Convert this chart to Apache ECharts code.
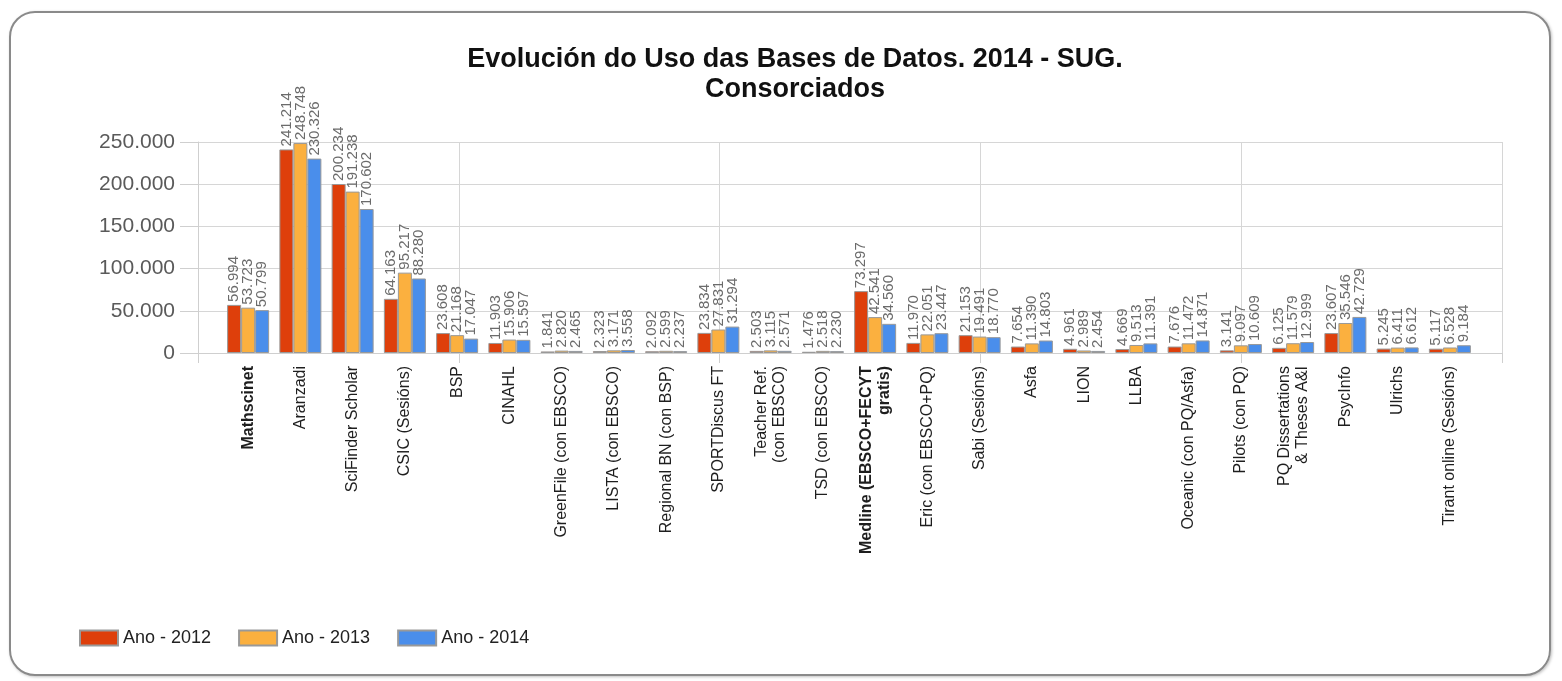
<!DOCTYPE html>
<html>
<head>
<meta charset="utf-8">
<title>Evolución do Uso das Bases de Datos</title>
<script src="https://cdn.jsdelivr.net/npm/echarts@6/dist/echarts.min.js"></script>
<style>
html, body { margin: 0; padding: 0; background: #fff; }
.marco { position: absolute; left: 9px; top: 11px; width: 1538px; height: 661px; border: 2px solid #8a8a8a; border-radius: 26px; box-shadow: 1px 1px 3px rgba(0,0,0,0.25); }
#grafico { position: absolute; left: 0; top: 0; width: 1562px; height: 681px; }
</style>
</head>
<body>
<div class="marco"></div>
<div id="grafico"></div>
<script>
var categorias = ['Mathscinet', 'Aranzadi', 'SciFinder Scholar', 'CSIC (Sesións)', 'BSP', 'CINAHL',
	'GreenFile (con EBSCO)', 'LISTA (con EBSCO)', 'Regional BN (con BSP)', 'SPORTDiscus FT',
	'Teacher Ref.\n(con EBSCO)', 'TSD (con EBSCO)', 'Medline (EBSCO+FECYT\ngratis)', 'Eric (con EBSCO+PQ)',
	'Sabi (Sesións)', 'Asfa', 'LION', 'LLBA', 'Oceanic (con PQ/Asfa)', 'Pilots (con PQ)',
	'PQ Dissertations\n& Theses A&I', 'PsycInfo', 'Ulrichs', 'Tirant online (Sesións)'];
var ano2012 = [56994, 241214, 200234, 64163, 23608, 11903, 1841, 2323, 2092, 23834, 2503, 1476,
	73297, 11970, 21153, 7654, 4961, 4669, 7676, 3141, 6125, 23607, 5245, 5117];
var ano2013 = [53723, 248748, 191238, 95217, 21168, 15906, 2820, 3171, 2599, 27831, 3115, 2518,
	42541, 22051, 19491, 11390, 2989, 9513, 11472, 9097, 11579, 35546, 6411, 6528];
var ano2014 = [50799, 230326, 170602, 88280, 17047, 15597, 2465, 3558, 2237, 31294, 2571, 2230,
	34560, 23447, 18770, 14803, 2454, 11391, 14871, 10609, 12999, 42729, 6612, 9184];
var series_nomes = ['Ano - 2012', 'Ano - 2013', 'Ano - 2014'];
var cores = ['#DE3F0B', '#FBB03F', '#4A8EEB'];
var destacadas = [0, 12]; // etiquetas en negriña

// separador de miles con punto
function puntos(v) {
	return String(v).replace(/\B(?=(\d{3})+(?!\d))/g, '.');
}

var eixoCats = [];
for (var i = 0; i < categorias.length; i++) {
	if (destacadas.indexOf(i) >= 0) {
		eixoCats.push({ value: categorias[i], textStyle: { fontWeight: 'bold' } });
	} else {
		eixoCats.push(categorias[i]);
	}
}

var datos = [ano2012, ano2013, ano2014];
var series = [];
for (var s = 0; s < datos.length; s++) {
	series.push({
		name: series_nomes[s],
		type: 'bar',
		xAxisIndex: 0,
		yAxisIndex: 0,
		barWidth: 14,
		barGap: '0%',
		itemStyle: { color: cores[s], borderColor: '#999', borderWidth: 1 },
		label: {
			show: true,
			position: 'top',
			rotate: 90,
			align: 'left',
			verticalAlign: 'middle',
			distance: 3,
			fontSize: 15,
			color: '#6b6b6b',
			formatter: function (p) { return puntos(p.value); }
		},
		data: datos[s]
	});
}

var myChart = echarts.init(document.getElementById('grafico'));
var option = {
	animation: false,
	textStyle: { fontFamily: 'Liberation Sans, Arial, sans-serif' },
	title: {
		text: 'Evolución do Uso das Bases de Datos. 2014 - SUG.\nConsorciados',
		left: 790,
		top: 40,
		textAlign: 'center',
		textStyle: { fontSize: 27, fontWeight: 'bold', color: '#111', lineHeight: 30 }
	},
	legend: {
		left: 74,
		top: 624,
		icon: 'rect',
		itemWidth: 38,
		itemHeight: 15,
		itemGap: 27,
		textStyle: { fontSize: 18, color: '#222' },
		data: series_nomes
	},
	grid: [
		{ left: 222, right: 86, top: 142, bottom: 328 },
		{ left: 198, right: 60, top: 142, bottom: 328 }
	],
	xAxis: [
		{
			type: 'category',
			gridIndex: 0,
			data: eixoCats,
			axisLine: { show: false },
			axisTick: { show: false },
			axisLabel: { interval: 0, rotate: 90, margin: 13, fontSize: 16, lineHeight: 18, color: '#1e1e1e' }
		},
		{
			type: 'value',
			gridIndex: 1,
			position: 'bottom',
			min: 0,
			max: 5,
			interval: 1,
			axisLabel: { show: false },
			axisLine: { show: true, lineStyle: { color: '#cfcfcf' } },
			axisTick: { show: true, length: 10, lineStyle: { color: '#cfcfcf' } },
			splitLine: { show: true, lineStyle: { color: '#d6d6d6' } }
		}
	],
	yAxis: [
		{ type: 'value', gridIndex: 0, min: 0, max: 250000, show: false },
		{
			type: 'value',
			gridIndex: 1,
			min: 0,
			max: 250000,
			interval: 50000,
			axisLine: { show: true, lineStyle: { color: '#cfcfcf' } },
			axisTick: { show: true, length: 18, lineStyle: { color: '#cfcfcf' } },
			axisLabel: { margin: 23, fontSize: 21, color: '#5a5a5a', formatter: puntos },
			splitLine: { show: true, lineStyle: { color: '#d6d6d6' } }
		}
	],
	series: series
};
myChart.setOption(option);
</script>
</body>
</html>
